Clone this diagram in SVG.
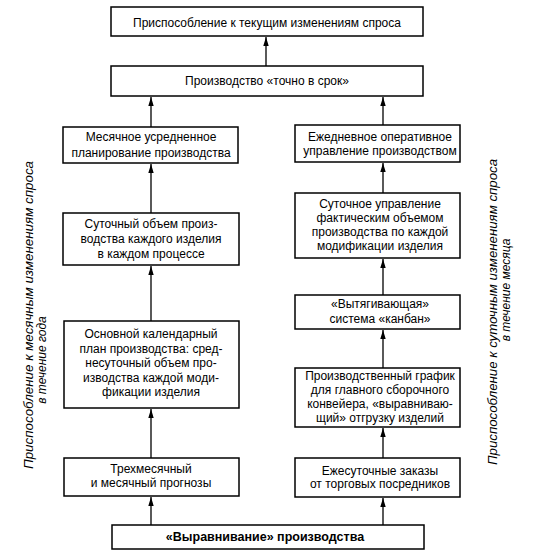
<svg xmlns="http://www.w3.org/2000/svg" width="541" height="557" viewBox="0 0 541 557">
<style>
.box{fill:#fff;stroke:#000;stroke-width:1.5}
.t{font-family:"Liberation Sans","DejaVu Sans",sans-serif;font-size:12px;fill:#000;text-anchor:middle}
.b{font-weight:bold;font-size:12.5px}
.side{font-family:"Liberation Sans","DejaVu Sans",sans-serif;font-size:12px;font-style:italic;fill:#000;text-anchor:middle}
.c{stroke:#000;stroke-width:1.3;fill:none}
</style>
<defs>
<marker id="ah" viewBox="0 0 10 6" refX="10" refY="3" markerWidth="9" markerHeight="5.4" markerUnits="userSpaceOnUse" orient="auto">
<path d="M0,0 L10,3 L0,6 Z" fill="#000"/>
</marker>
</defs>
<rect width="541" height="557" fill="#fff"/>
<g id="n-top">
<rect class="box" x="111" y="7" width="312" height="29"/>
<text class="t" x="267" y="27">Приспособление к текущим изменениям спроса</text>
</g>
<g id="n-jit">
<rect class="box" x="111" y="66" width="312" height="30"/>
<text class="t" x="267" y="85">Производство «точно в срок»</text>
</g>
<g id="n-monthly">
<rect class="box" x="63" y="127" width="175" height="36"/>
<text class="t" x="151" y="141">Месячное усредненное</text>
<text class="t" x="151" y="157">планирование производства</text>
</g>
<g id="n-daily-volume">
<rect class="box" x="63" y="213" width="176" height="52"/>
<text class="t" x="151" y="228">Суточный объем произ-</text>
<text class="t" x="151" y="243">водства каждого изделия</text>
<text class="t" x="151" y="258">в каждом процессе</text>
</g>
<g id="n-master-plan">
<rect class="box" x="64" y="321" width="175" height="87"/>
<text class="t" x="151" y="338">Основной календарный</text>
<text class="t" x="151" y="353">план производства: сред-</text>
<text class="t" x="151" y="367">несуточный объем про-</text>
<text class="t" x="151" y="382">изводства каждой моди-</text>
<text class="t" x="151" y="396">фикации изделия</text>
</g>
<g id="n-forecast">
<rect class="box" x="64" y="458" width="175" height="38"/>
<text class="t" x="151" y="473">Трехмесячный</text>
<text class="t" x="151" y="487">и месячный прогнозы</text>
</g>
<g id="n-daily-ops">
<rect class="box" x="295" y="125" width="165" height="37"/>
<text class="t" x="380" y="141">Ежедневное оперативное</text>
<text class="t" x="380" y="155">управление производством</text>
</g>
<g id="n-daily-control">
<rect class="box" x="295" y="193" width="165" height="65"/>
<text class="t" x="380" y="208">Суточное управление</text>
<text class="t" x="380" y="222">фактическим объемом</text>
<text class="t" x="380" y="236">производства по каждой</text>
<text class="t" x="380" y="250">модификации изделия</text>
</g>
<g id="n-kanban">
<rect class="box" x="295" y="295" width="165" height="34"/>
<text class="t" x="380" y="308">«Вытягивающая»</text>
<text class="t" x="380" y="323">система «канбан»</text>
</g>
<g id="n-schedule">
<rect class="box" x="295" y="368" width="165" height="59"/>
<text class="t" x="380" y="380">Производственный график</text>
<text class="t" x="380" y="394">для главного сборочного</text>
<text class="t" x="380" y="408">конвейера, «выравниваю-</text>
<text class="t" x="380" y="422">щий» отгрузку изделий</text>
</g>
<g id="n-orders">
<rect class="box" x="295" y="458" width="165" height="39"/>
<text class="t" x="380" y="475">Ежесуточные заказы</text>
<text class="t" x="380" y="488">от торговых посредников</text>
</g>
<g id="n-leveling">
<rect class="box" x="112" y="525" width="312" height="24"/>
<text class="t b" x="265" y="541">«Выравнивание» производства</text>
</g>
<g id="side-left">
<text class="side" transform="translate(33,315) rotate(-90)" textLength="308" lengthAdjust="spacingAndGlyphs">Приспособление к месячным изменениям спроса</text>
<text class="side" transform="translate(46,360) rotate(-90)">в течение года</text>
</g>
<g id="side-right">
<text class="side" transform="translate(497,312) rotate(-90)" textLength="306" lengthAdjust="spacingAndGlyphs">Приспособление к суточным изменениям спроса</text>
<text class="side" transform="translate(510,290) rotate(-90)">в течение месяца</text>
</g>
<g id="connectors">
<line class="c" x1="266" y1="66" x2="266" y2="37" marker-end="url(#ah)"/>
<line class="c" x1="151" y1="127" x2="151" y2="97" marker-end="url(#ah)"/>
<line class="c" x1="151" y1="213" x2="151" y2="164" marker-end="url(#ah)"/>
<line class="c" x1="151" y1="321" x2="151" y2="266" marker-end="url(#ah)"/>
<line class="c" x1="151" y1="458" x2="151" y2="409" marker-end="url(#ah)"/>
<line class="c" x1="151" y1="525" x2="151" y2="497" marker-end="url(#ah)"/>
<line class="c" x1="383" y1="125" x2="383" y2="97" marker-end="url(#ah)"/>
<line class="c" x1="383" y1="193" x2="383" y2="163" marker-end="url(#ah)"/>
<line class="c" x1="383" y1="295" x2="383" y2="259" marker-end="url(#ah)"/>
<line class="c" x1="383" y1="368" x2="383" y2="330" marker-end="url(#ah)"/>
<line class="c" x1="383" y1="458" x2="383" y2="428" marker-end="url(#ah)"/>
<line class="c" x1="383" y1="525" x2="383" y2="498" marker-end="url(#ah)"/>
</g>
</svg>
